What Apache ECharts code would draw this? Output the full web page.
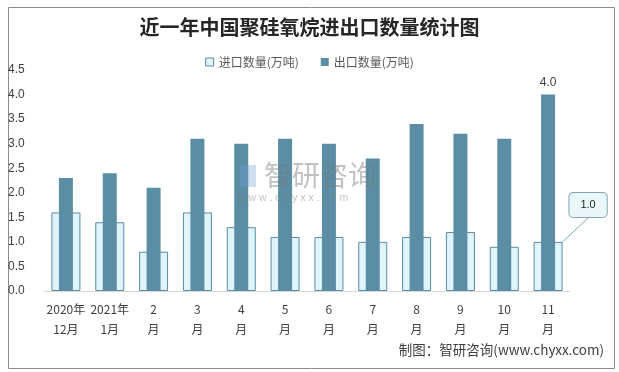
<!DOCTYPE html>
<html><head><meta charset="utf-8">
<script src="https://cdn.jsdelivr.net/npm/echarts@6/dist/echarts.min.js"></script>
<style>html,body{margin:0;padding:0;background:#fff}#c{width:619px;height:372px}</style>
</head><body><div id="c"></div>
<script>
var categories = ['2020年\n12月','2021年\n1月','2\n月','3\n月','4\n月','5\n月','6\n月','7\n月','8\n月','9\n月','10\n月','11\n月'];
var importValues = [1.6, 1.4, 0.8, 1.6, 1.3, 1.1, 1.1, 1.0, 1.1, 1.2, 0.9, 1.0];
var exportValues = [2.3, 2.4, 2.1, 3.1, 3.0, 3.1, 3.0, 2.7, 3.4, 3.2, 3.1, 4.0];
var seriesNames = ['进口数量(万吨)', '出口数量(万吨)'];
var yTicks = {min: 0, max: 4.5, interval: 0.5};

var chart = echarts.init(document.getElementById('c'));
var lastIdx = importValues.length - 1;
var importData = importValues.map(function (v, i) {
  if (i === lastIdx) {
    return {
      value: v,
      label: {
        show: true, position: 'top', formatter: function (p) { return p.value.toFixed(1); },
        backgroundColor: '#eaf6f8', borderColor: '#7fa7b8', borderWidth: 1, borderRadius: 4,
        padding: [7, 11, 6, 11], color: '#262626', fontSize: 11
      },
      labelLine: {show: true, lineStyle: {color: '#7fa7b8', width: 1}}
    };
  }
  return v;
});
var exportData = exportValues.map(function (v, i) {
  if (i === lastIdx) {
    return {value: v, label: {show: true, position: 'top', distance: 6, formatter: function (p) { return p.value.toFixed(1); }, color: '#404040', fontSize: 12}};
  }
  return v;
});

chart.setOption({
  animation: false,
  title: {
    text: '近一年中国聚硅氧烷进出口数量统计图', left: 'center', top: 12,
    textStyle: {fontFamily: 'Noto Sans CJK SC', fontSize: 20, fontWeight: 'bold', color: '#262626'}
  },
  legend: {
    top: 51, left: 'center', itemWidth: 8, itemHeight: 8, itemGap: 22,
    textStyle: {color: '#595959', fontSize: 12, fontFamily: 'Noto Sans CJK SC'},
    data: [
      {name: seriesNames[0], icon: 'rect', itemStyle: {color: '#e0f4fb', borderColor: '#5a8ca3', borderWidth: 1}},
      {name: seriesNames[1], icon: 'rect'}
    ]
  },
  grid: {left: 44, right: 49, top: 70, bottom: 81},
  xAxis: [{
    type: 'category', data: categories,
    axisLine: {lineStyle: {color: '#d9d9d9', width: 1}},
    axisTick: {show: false},
    axisLabel: {color: '#404040', fontSize: 12, fontFamily: 'Noto Sans CJK SC', lineHeight: 20, margin: 8, interval: 0}
  }, {
    type: 'category', data: categories, show: false
  }],
  yAxis: {
    type: 'value', min: yTicks.min, max: yTicks.max, interval: yTicks.interval,
    splitLine: {show: false}, axisLine: {show: false}, axisTick: {show: false},
    axisLabel: {color: '#404040', fontSize: 12, align: 'left', margin: 36, formatter: function (v) { return v.toFixed(1); }}
  },
  series: [{
    name: seriesNames[0], type: 'bar', xAxisIndex: 0, barWidth: 29, data: importData,
    itemStyle: {color: '#e0f4fb', borderColor: '#5a8ca3', borderWidth: 1}, z: 2,
    labelLayout: function (p) {
      if (p.dataIndex === lastIdx) return {dx: 40, dy: -20};
      return {};
    }
  }, {
    name: seriesNames[1], type: 'bar', xAxisIndex: 1, barWidth: 14, data: exportData,
    itemStyle: {color: '#5b8ea5'}, z: 3
  }],
  graphic: [
    {type: 'rect', left: 6, top: 5, shape: {width: 606, height: 361}, style: {fill: 'none', stroke: '#8c8c8c', lineWidth: 1}, silent: true, z: -1},
    {type: 'text', left: 264, top: 161, style: {text: '智研咨询', fill: 'rgba(120,120,120,0.45)', fontSize: 28, fontFamily: 'Noto Sans CJK SC'}, z: 10},
    {type: 'text', left: 238, top: 193, style: {text: 'w w w . c h y x x . c o m', fill: 'rgba(120,120,120,0.45)', fontSize: 10.5}, z: 10},
    {type: 'rect', left: 240, top: 165, shape: {width: 16, height: 22}, style: {fill: 'rgba(110,160,210,0.35)'}, z: 10},
    {type: 'text', right: 15, top: 343, style: {text: '制图：智研咨询(www.chyxx.com)', fill: '#404040', fontSize: 13.5, fontFamily: 'Noto Sans CJK SC'}}
  ]
});
</script>
</body></html>
